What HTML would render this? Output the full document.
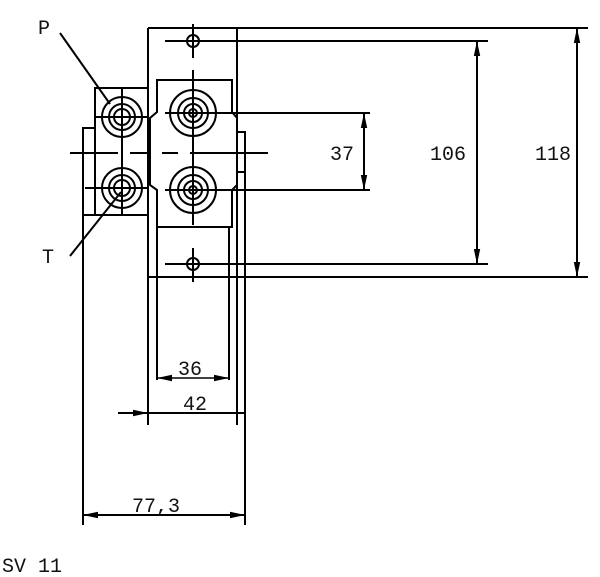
<!DOCTYPE html>
<html><head><style>
html,body{margin:0;padding:0;background:#fff;}
svg{display:block;}
text{font-family:"Liberation Mono",monospace;font-size:20px;fill:#111;}
</style></head><body>
<svg width="600" height="577" viewBox="0 0 600 577" xmlns="http://www.w3.org/2000/svg">
<defs>
<marker id="a" viewBox="0 0 10 10" refX="10" refY="5" markerWidth="15" markerHeight="8" orient="auto-start-reverse" markerUnits="userSpaceOnUse" preserveAspectRatio="none"><path d="M0,1 L10,5 L0,9 z" fill="#000"/></marker>
</defs>
<g stroke="#000" fill="none" stroke-width="2">
<line x1="148" y1="28" x2="588" y2="28"/>
<line x1="148" y1="28" x2="148" y2="425"/>
<line x1="237" y1="28" x2="237" y2="425"/>
<line x1="245" y1="132" x2="245" y2="525"/>
<line x1="148" y1="277" x2="588" y2="277"/>
<circle cx="193" cy="41" r="6"/>
<circle cx="193" cy="264" r="6"/>
<line x1="165" y1="41" x2="488" y2="41"/>
<line x1="165" y1="264" x2="488" y2="264"/>
<line x1="193" y1="24" x2="193" y2="58"/>
<line x1="193" y1="248" x2="193" y2="282"/>
<path d="M157,112 L157,80 L232,80 L232,112 L237,118 L237,185 L232,190 L232,227 L157,227 L157,190 L150,185 L150,118 Z"/>
<circle cx="193" cy="113" r="23"/><circle cx="193" cy="113" r="15"/><circle cx="193" cy="113" r="9"/><circle cx="193" cy="113" r="4"/>
<circle cx="193" cy="190" r="23"/><circle cx="193" cy="190" r="15"/><circle cx="193" cy="190" r="9"/><circle cx="193" cy="190" r="4"/>
<line x1="193" y1="70" x2="193" y2="225"/>
<line x1="165" y1="113" x2="370" y2="113"/>
<line x1="165" y1="190" x2="370" y2="190"/>
<rect x="237" y="132" width="8" height="40"/>
<rect x="95" y="88" width="53" height="127"/>
<circle cx="122" cy="117" r="20"/><circle cx="122" cy="117" r="13"/><circle cx="122" cy="117" r="8"/>
<circle cx="122" cy="188" r="20"/><circle cx="122" cy="188" r="13"/><circle cx="122" cy="188" r="8"/>
<line x1="122" y1="88" x2="122" y2="215"/>
<line x1="95" y1="117" x2="148" y2="117"/>
<line x1="85" y1="188" x2="148" y2="188"/>
<path d="M83,525 L83,128 L95,128"/>
<line x1="83" y1="215" x2="148" y2="215"/>
<line x1="70" y1="153" x2="118" y2="153"/>
<line x1="130" y1="153" x2="150" y2="153"/>
<line x1="162" y1="153" x2="178" y2="153"/>
<line x1="190" y1="153" x2="268" y2="153"/>
<line x1="60" y1="33" x2="110" y2="104"/>
<line x1="70" y1="256" x2="121" y2="192"/>
<line x1="157" y1="227" x2="157" y2="380"/>
<line x1="229" y1="227" x2="229" y2="380"/>
<line x1="364" y1="113" x2="364" y2="190" marker-start="url(#a)" marker-end="url(#a)"/>
<line x1="477" y1="41" x2="477" y2="264" marker-start="url(#a)" marker-end="url(#a)"/>
<line x1="577" y1="28" x2="577" y2="277" marker-start="url(#a)" marker-end="url(#a)"/>
<line x1="157" y1="378" x2="229" y2="378" marker-start="url(#a)" marker-end="url(#a)" stroke-width="1.5"/>
<line x1="118" y1="413" x2="148" y2="413" marker-end="url(#a)"/>
<line x1="148" y1="413" x2="245" y2="413"/>
<line x1="83" y1="515" x2="245" y2="515" marker-start="url(#a)" marker-end="url(#a)"/>
</g>
<text x="330" y="160">37</text>
<text x="430" y="160">106</text>
<text x="535" y="160">118</text>
<text x="178" y="375">36</text>
<text x="183" y="410">42</text>
<text x="132" y="512">77,3</text>
<text x="38" y="34">P</text>
<text x="42" y="263">T</text>
<text x="2" y="572">SV 11</text>
</svg>
</body></html>
